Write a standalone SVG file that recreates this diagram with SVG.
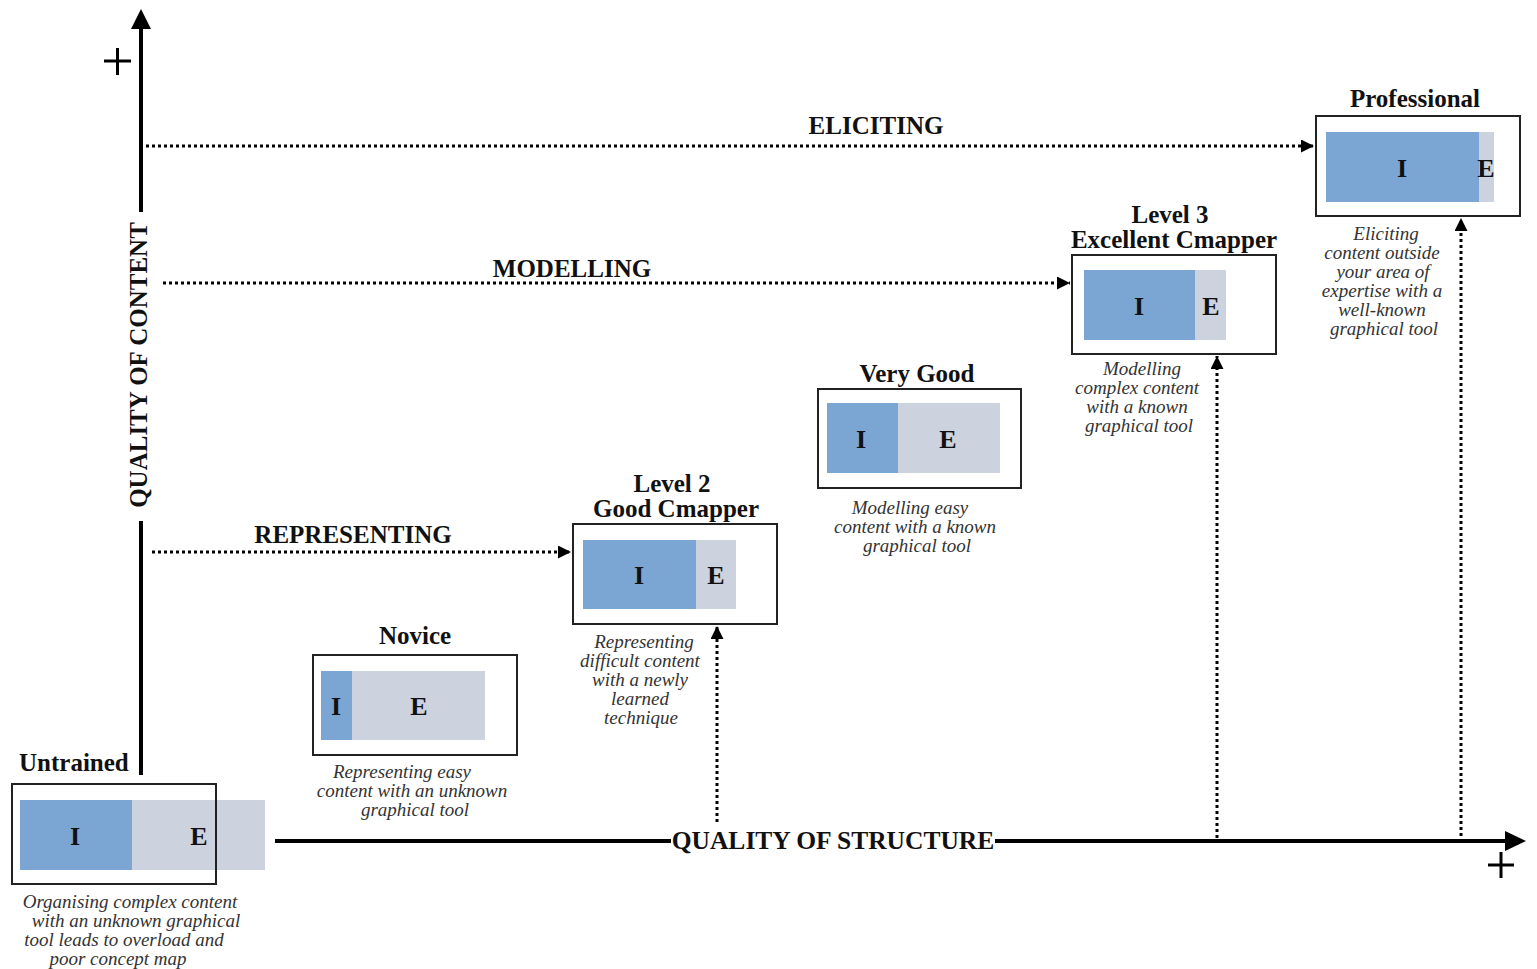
<svg xmlns="http://www.w3.org/2000/svg" width="1537" height="969" viewBox="0 0 1537 969">
<defs>
<style>
.t{font-family:"Liberation Serif","Times New Roman",serif;font-weight:bold;font-size:25px;fill:#111;text-anchor:middle}
.ie{font-family:"Liberation Serif","Times New Roman",serif;font-weight:bold;font-size:26px;fill:#111;text-anchor:middle}
.c{font-family:"Liberation Serif","Times New Roman",serif;font-style:italic;font-size:19px;fill:#333;text-anchor:middle}
.bg{fill:#fff}
.box{fill:none;stroke:#222;stroke-width:2}
.bi{fill:#7ba6d3}
.be{fill:#cdd2df}
.ax{stroke:#000;stroke-width:4;fill:none}
.dot{stroke:#000;stroke-width:3;stroke-dasharray:3 3;fill:none}
.plus{stroke:#000;stroke-width:3}
</style>
<marker id="ah" viewBox="0 0 10 10" refX="10" refY="5" markerWidth="13" markerHeight="13" markerUnits="userSpaceOnUse" orient="auto"><path d="M0,0 L10,5 L0,10 z" fill="#000"/></marker>
</defs>
<g id="connectors">
<line class="ax" x1="141" y1="775" x2="141" y2="521"/>
<line class="ax" x1="141" y1="212" x2="141" y2="28"/>
<path d="M131,29 L141,9 L151,29 z" fill="#000"/>
<line class="ax" x1="275" y1="841" x2="671" y2="841"/>
<line class="ax" x1="995" y1="841" x2="1507" y2="841"/>
<path d="M1505,831 L1526,841 L1505,851 z" fill="#000"/>
<line class="plus" x1="104" y1="61" x2="131" y2="61"/>
<line class="plus" x1="117.5" y1="48" x2="117.5" y2="75"/>
<line class="plus" x1="1488" y1="865" x2="1514" y2="865"/>
<line class="plus" x1="1501" y1="852" x2="1501" y2="878"/>
<line class="dot" x1="146" y1="146" x2="1314" y2="146" marker-end="url(#ah)"/>
<line class="dot" x1="163" y1="283" x2="1070" y2="283" marker-end="url(#ah)"/>
<line class="dot" x1="152" y1="552" x2="571" y2="552" marker-end="url(#ah)"/>
<line class="dot" x1="717" y1="822" x2="717" y2="626" marker-end="url(#ah)"/>
<line class="dot" x1="1217" y1="838" x2="1217" y2="356" marker-end="url(#ah)"/>
<line class="dot" x1="1461" y1="836" x2="1461" y2="218" marker-end="url(#ah)"/>
</g>
<g id="axis-labels">
<text class="t" transform="translate(147,365) rotate(-90)" x="0" y="0">QUALITY OF CONTENT</text>
<text class="t" x="833" y="849" style="font-size:25.5px">QUALITY OF STRUCTURE</text>
<text class="t" x="876" y="134">ELICITING</text>
<text class="t" x="572" y="277">MODELLING</text>
<text class="t" x="353" y="543">REPRESENTING</text>
</g>
<g id="untrained">
<text class="t" x="19" y="771" style="text-anchor:start">Untrained</text>
<rect class="bg" x="12" y="784" width="204" height="100"/>
<rect class="bi" x="20" y="800" width="112" height="70"/>
<rect class="be" x="132" y="800" width="133" height="70"/>
<rect class="box" x="12" y="784" width="204" height="100"/>
<text class="ie" x="75" y="845">I</text>
<text class="ie" x="199" y="845">E</text>
<text class="c" x="130" y="908">Organising complex content</text>
<text class="c" x="136" y="927">with an unknown graphical</text>
<text class="c" x="124" y="946">tool leads to overload and</text>
<text class="c" x="118" y="965">poor concept map</text>
</g>
<g id="novice">
<text class="t" x="415" y="644">Novice</text>
<rect class="bg" x="313" y="655" width="204" height="100"/>
<rect class="bi" x="321" y="671" width="31" height="69"/>
<rect class="be" x="352" y="671" width="133" height="69"/>
<rect class="box" x="313" y="655" width="204" height="100"/>
<text class="ie" x="336" y="715">I</text>
<text class="ie" x="419" y="715">E</text>
<text class="c" x="402" y="778">Representing easy</text>
<text class="c" x="412" y="797">content with an unknown</text>
<text class="c" x="415" y="816">graphical tool</text>
</g>
<g id="level2">
<text class="t" x="672" y="492">Level 2</text>
<text class="t" x="676" y="517">Good Cmapper</text>
<rect class="bg" x="573" y="524" width="204" height="100"/>
<rect class="bi" x="583" y="540" width="113" height="69"/>
<rect class="be" x="696" y="540" width="40" height="69"/>
<rect class="box" x="573" y="524" width="204" height="100"/>
<text class="ie" x="639" y="584">I</text>
<text class="ie" x="716" y="584">E</text>
<text class="c" x="644" y="648">Representing</text>
<text class="c" x="640" y="667">difficult content</text>
<text class="c" x="640" y="686">with a newly</text>
<text class="c" x="640" y="705">learned</text>
<text class="c" x="641" y="724">technique</text>
</g>
<g id="verygood">
<text class="t" x="917" y="382">Very Good</text>
<rect class="bg" x="818" y="389" width="203" height="99"/>
<rect class="bi" x="827" y="403" width="71" height="70"/>
<rect class="be" x="898" y="403" width="102" height="70"/>
<rect class="box" x="818" y="389" width="203" height="99"/>
<text class="ie" x="861" y="448">I</text>
<text class="ie" x="948" y="448">E</text>
<text class="c" x="910" y="514">Modelling easy</text>
<text class="c" x="915" y="533">content with a known</text>
<text class="c" x="917" y="552">graphical tool</text>
</g>
<g id="level3">
<text class="t" x="1170" y="223">Level 3</text>
<text class="t" x="1174" y="248">Excellent Cmapper</text>
<rect class="bg" x="1072" y="255" width="204" height="99"/>
<rect class="bi" x="1084" y="270" width="111" height="70"/>
<rect class="be" x="1195" y="270" width="31" height="70"/>
<rect class="box" x="1072" y="255" width="204" height="99"/>
<text class="ie" x="1139" y="315">I</text>
<text class="ie" x="1211" y="315">E</text>
<text class="c" x="1142" y="375">Modelling</text>
<text class="c" x="1137" y="394">complex content</text>
<text class="c" x="1137" y="413">with a known</text>
<text class="c" x="1139" y="432">graphical tool</text>
</g>
<g id="professional">
<text class="t" x="1415" y="107">Professional</text>
<rect class="bg" x="1316" y="116" width="204" height="100"/>
<rect class="bi" x="1326" y="132" width="153" height="70"/>
<rect class="be" x="1479" y="132" width="15" height="70"/>
<rect class="box" x="1316" y="116" width="204" height="100"/>
<text class="ie" x="1402" y="177">I</text>
<text class="ie" x="1486" y="177">E</text>
<text class="c" x="1386" y="240">Eliciting</text>
<text class="c" x="1382" y="259">content outside</text>
<text class="c" x="1383" y="278">your area of</text>
<text class="c" x="1382" y="297">expertise with a</text>
<text class="c" x="1382" y="316">well-known</text>
<text class="c" x="1384" y="335">graphical tool</text>
</g>
</svg>
